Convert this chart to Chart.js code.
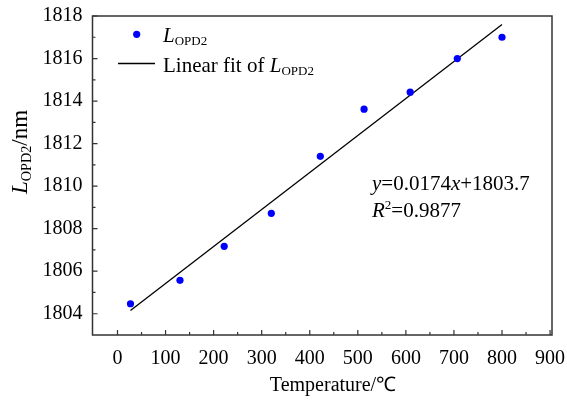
<!DOCTYPE html>
<html>
<head>
<meta charset="utf-8">
<script src="https://cdn.jsdelivr.net/npm/chart.js@4.4.1/dist/chart.umd.min.js"></script>
<style>
html,body{margin:0;padding:0;background:#fff;}
#wrap{width:567px;height:400px;position:relative;}
</style>
</head>
<body>
<div id="wrap"><canvas id="c" width="567" height="400"></canvas></div>
<script>
// Data
const temperatures = [27, 130, 222, 320, 422, 513, 609, 707, 800];
const lengthsOPD2 = [1804.47, 1805.57, 1807.17, 1808.72, 1811.40, 1813.62, 1814.42, 1816.00, 1817.00];
const fitX = [27, 800];
const fitY = [1804.15, 1817.60];
const xTickValues = [0, 100, 200, 300, 400, 500, 600, 700, 800, 900];
const xMinorValues = [50, 150, 250, 350, 450, 550, 650, 750, 850];
const yTickValues = [1804, 1806, 1808, 1810, 1812, 1814, 1816, 1818];
const yMinorValues = [1805, 1807, 1809, 1811, 1813, 1815, 1817];
const equationText = '=0.0174';
const equationText2 = '+1803.7';
const r2Text = '=0.9877';

const FONT = '"Liberation Serif", "Times New Roman", serif';

function richWidth(ctx, parts, size) {
  let w = 0;
  for (const p of parts) {
    const s = (p.sub || p.sup) ? size * 0.62 : size;
    ctx.font = (p.i ? 'italic ' : '') + s + 'px ' + FONT;
    w += ctx.measureText(p.t).width;
  }
  return w;
}
function drawRich(ctx, parts, x, y, size, align) {
  const w = richWidth(ctx, parts, size);
  let cx = align === 'center' ? x - w / 2 : (align === 'right' ? x - w : x);
  ctx.textAlign = 'left';
  ctx.textBaseline = 'alphabetic';
  ctx.fillStyle = '#000';
  for (const p of parts) {
    const s = (p.sub || p.sup) ? size * 0.62 : size;
    ctx.font = (p.i ? 'italic ' : '') + s + 'px ' + FONT;
    let dy = 0;
    if (p.sub) dy = size * 0.18;
    if (p.sup) dy = -size * 0.38;
    ctx.fillText(p.t, cx, y + dy);
    cx += ctx.measureText(p.t).width;
  }
}

function zeroPad(s) {
  s.paddingLeft = 0; s.paddingRight = 0; s.paddingTop = 0; s.paddingBottom = 0;
}

const decor = {
  id: 'decor',
  afterDraw(chart) {
    const ctx = chart.ctx;
    const a = chart.chartArea;
    const xs = chart.scales.x, ys = chart.scales.y;
    ctx.save();
    // frame
    ctx.strokeStyle = '#333';
    ctx.lineWidth = 1.5;
    ctx.strokeRect(a.left, a.top, a.right - a.left, a.bottom - a.top);
    // ticks (inside)
    ctx.lineWidth = 1.2;
    ctx.beginPath();
    for (const v of xTickValues) {
      const px = xs.getPixelForValue(v);
      ctx.moveTo(px, a.bottom); ctx.lineTo(px, a.bottom - 5);
    }
    for (const v of xMinorValues) {
      const px = xs.getPixelForValue(v);
      ctx.moveTo(px, a.bottom); ctx.lineTo(px, a.bottom - 3);
    }
    for (const v of yTickValues) {
      const py = ys.getPixelForValue(v);
      ctx.moveTo(a.left, py); ctx.lineTo(a.left + 5, py);
    }
    for (const v of yMinorValues) {
      const py = ys.getPixelForValue(v);
      ctx.moveTo(a.left, py); ctx.lineTo(a.left + 3, py);
    }
    ctx.stroke();

    // legend
    ctx.fillStyle = '#0000ff';
    ctx.beginPath();
    ctx.arc(136.7, 34.3, 3.6, 0, Math.PI * 2);
    ctx.fill();
    drawRich(ctx, [{t: 'L', i: true}, {t: 'OPD2', sub: true}], 163, 41.7, 21, 'left');
    ctx.strokeStyle = '#000';
    ctx.lineWidth = 1.3;
    ctx.beginPath();
    ctx.moveTo(118, 63.5); ctx.lineTo(155, 63.5);
    ctx.stroke();
    drawRich(ctx, [{t: 'Linear fit of '}, {t: 'L', i: true}, {t: 'OPD2', sub: true}], 163, 71.5, 21, 'left');

    // equation
    drawRich(ctx, [{t: 'y', i: true}, {t: equationText}, {t: 'x', i: true}, {t: equationText2}], 372, 190, 21, 'left');
    drawRich(ctx, [{t: 'R', i: true}, {t: '2', sup: true}, {t: r2Text}], 372, 217, 21, 'left');

    // axis titles
    drawRich(ctx, [{t: 'Temperature/℃'}], 333, 391, 20, 'center');
    ctx.save();
    ctx.translate(27, 152);
    ctx.rotate(-Math.PI / 2);
    drawRich(ctx, [{t: 'L', i: true}, {t: 'OPD2', sub: true}, {t: '/nm'}], 0, 0, 23, 'center');
    ctx.restore();
    ctx.restore();
  }
};

new Chart(document.getElementById('c'), {
  type: 'scatter',
  data: {
    datasets: [
      {
        label: 'L_OPD2',
        data: temperatures.map((t, i) => ({x: t, y: lengthsOPD2[i]})),
        backgroundColor: '#0000ff',
        borderColor: '#0000ff',
        pointRadius: 3.6,
        pointBorderWidth: 0,
        showLine: false
      },
      {
        label: 'Linear fit',
        data: fitX.map((t, i) => ({x: t, y: fitY[i]})),
        borderColor: '#000',
        borderWidth: 1.3,
        pointRadius: 0,
        showLine: true,
        fill: false
      }
    ]
  },
  options: {
    responsive: false,
    animation: false,
    devicePixelRatio: 1,
    layout: {padding: {left: 0, top: 16, right: 15, bottom: 0}},
    plugins: {legend: {display: false}, tooltip: {enabled: false}},
    scales: {
      x: {
        type: 'linear',
        min: -52, max: 904,
        grid: {display: false, drawTicks: false},
        border: {display: false},
        afterBuildTicks(s) { s.ticks = xTickValues.map(v => ({value: v})); },
        afterFit(s) { s.height = 65; zeroPad(s); },
        ticks: {
          color: '#000',
          padding: 12,
          maxRotation: 0,
          autoSkip: false,
          callback: v => String(v),
          font: {family: FONT, size: 20}
        }
      },
      y: {
        type: 'linear',
        min: 1803, max: 1818,
        grid: {display: false, drawTicks: false},
        border: {display: false},
        afterBuildTicks(s) { s.ticks = yTickValues.map(v => ({value: v})); },
        afterFit(s) { s.width = 92.5; zeroPad(s); },
        ticks: {
          color: '#000',
          padding: 10,
          autoSkip: false,
          callback: v => String(v),
          font: {family: FONT, size: 20}
        }
      }
    }
  },
  plugins: [decor]
});
</script>
</body>
</html>
